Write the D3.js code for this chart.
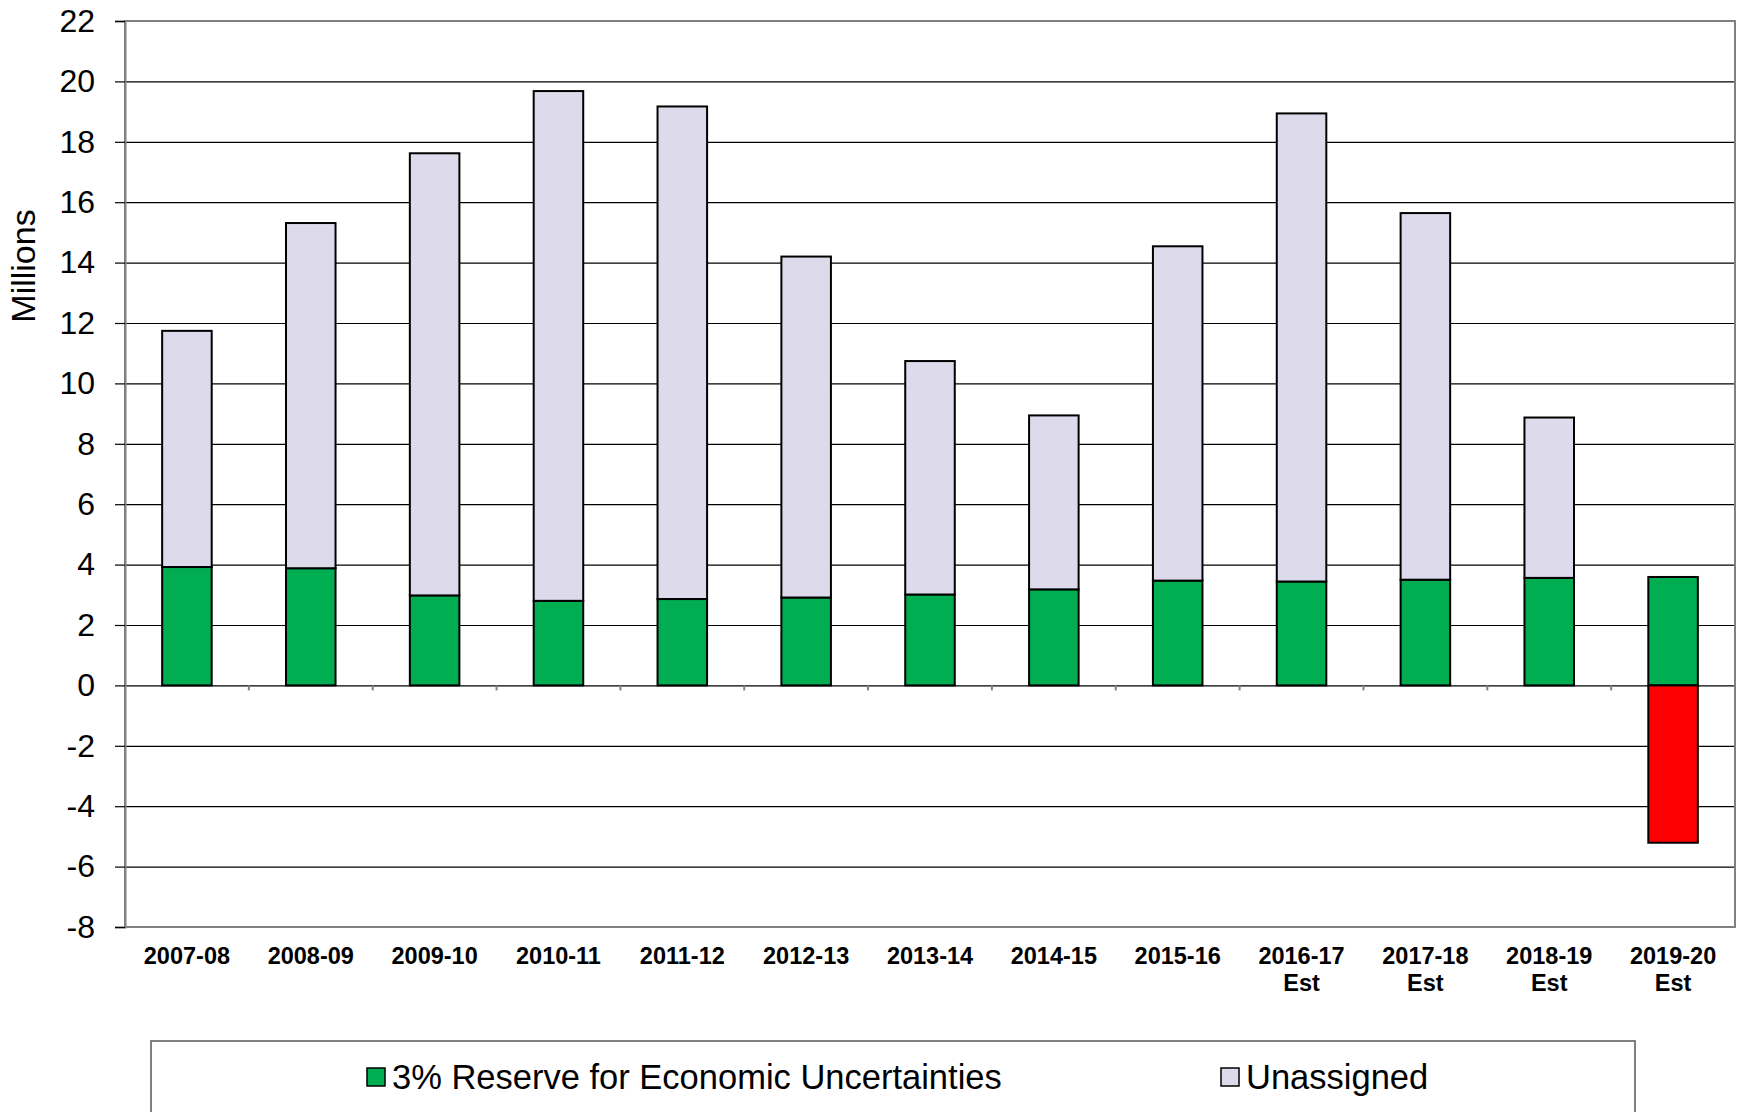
<!DOCTYPE html>
<html>
<head>
<meta charset="utf-8">
<script src="https://cdn.jsdelivr.net/npm/d3@7"></script>
<style>
  body { margin: 0; background: #fff; }
  text { font-family: Arial, "Liberation Sans", sans-serif; }
</style>
</head>
<body>
<script>
// data (millions)
var categories = ["2007-08", "2008-09", "2009-10", "2010-11", "2011-12", "2012-13", "2013-14",
                  "2014-15", "2015-16", "2016-17 Est", "2017-18 Est", "2018-19 Est", "2019-20 Est"];
var reserve    = [3.92, 3.88, 2.98, 2.80, 2.86, 2.91, 3.01, 3.18, 3.47, 3.44, 3.50, 3.56, 3.59];
var unassigned = [7.82, 11.43, 14.64, 16.88, 16.31, 11.29, 7.73, 5.76, 11.07, 15.50, 12.14, 5.31, -5.21];
var yTicks = [-8, -6, -4, -2, 0, 2, 4, 6, 8, 10, 12, 14, 16, 18, 20, 22];
var seriesNames = ["3% Reserve for Economic Uncertainties", "Unassigned"];

var W = 1746, H = 1112;
var margin = {top: 21, right: 11, bottom: 185, left: 125},
    width = W - margin.left - margin.right,
    height = H - margin.top - margin.bottom;

var green = "#00ad50", lavender = "#dddaeb", red = "#ff0000";

var svg = d3.select("body").append("svg")
    .attr("width", W)
    .attr("height", H);

var g = svg.append("g")
    .attr("transform", "translate(" + margin.left + "," + margin.top + ")");

// Scales
var x = d3.scaleBand().domain(categories).range([0, width])
    .paddingInner(0.6).paddingOuter(0.3);
var y = d3.scaleLinear().domain([-8, 22]).range([height, 0]);

// Gridlines
g.append("g")
    .attr("class", "grid")
    .call(d3.axisLeft(y).tickValues(yTicks).tickSize(-width).tickFormat(""))
    .call(function(s) {
        s.select(".domain").remove();
        s.selectAll("line").attr("stroke", "#000").attr("stroke-width", 1.2);
    });

// Plot border (gray)
g.append("rect")
    .attr("x", 0).attr("y", 0)
    .attr("width", width).attr("height", height)
    .attr("fill", "none")
    .attr("stroke", "#808080")
    .attr("stroke-width", 2);

// Y axis (plain hyphen for negatives, like the original)
g.append("g")
    .call(d3.axisLeft(y).tickValues(yTicks).tickSize(10).tickPadding(20)
        .tickFormat(function(d) { return String(d); }))
    .call(function(s) {
        s.select(".domain").attr("stroke", "#808080").attr("stroke-width", 2);
        s.selectAll("line").attr("stroke", "#000").attr("stroke-width", 1.2);
        s.selectAll("text").attr("font-size", "32px").attr("fill", "#000");
    });

// small ticks on the zero line between categories
var step = x.step();
g.append("g").selectAll("line")
    .data(categories.slice(0, categories.length - 1))
    .join("line")
    .attr("x1", function(d) { return x(d) + x.bandwidth() + (step - x.bandwidth()) / 2; })
    .attr("x2", function(d) { return x(d) + x.bandwidth() + (step - x.bandwidth()) / 2; })
    .attr("y1", y(0))
    .attr("y2", y(0) + 5)
    .attr("stroke", "#808080")
    .attr("stroke-width", 2);

// Bars: reserve (green) from 0 up, unassigned stacked on top (red if negative)
var bars = g.append("g");
bars.selectAll("rect.reserve")
    .data(categories)
    .join("rect")
    .attr("class", "reserve")
    .attr("x", function(d) { return x(d); })
    .attr("width", x.bandwidth())
    .attr("y", function(d, i) { return y(reserve[i]); })
    .attr("height", function(d, i) { return y(0) - y(reserve[i]); })
    .attr("fill", green)
    .attr("stroke", "#000")
    .attr("stroke-width", 2);

bars.selectAll("rect.unassigned")
    .data(categories)
    .join("rect")
    .attr("class", "unassigned")
    .attr("x", function(d) { return x(d); })
    .attr("width", x.bandwidth())
    .attr("y", function(d, i) {
        return unassigned[i] >= 0 ? y(reserve[i] + unassigned[i]) : y(0);
    })
    .attr("height", function(d, i) {
        return unassigned[i] >= 0 ? y(reserve[i]) - y(reserve[i] + unassigned[i])
                                  : y(unassigned[i]) - y(0);
    })
    .attr("fill", function(d, i) { return unassigned[i] >= 0 ? lavender : red; })
    .attr("stroke", "#000")
    .attr("stroke-width", 2);

// X axis labels
g.append("g")
    .attr("transform", "translate(0," + height + ")")
    .call(d3.axisBottom(x).tickSize(0).tickPadding(0))
    .call(function(s) {
        s.select(".domain").remove();
        s.selectAll("text").each(function(d) {
            var t = d3.select(this).text("")
                .attr("y", 37).attr("dy", null)
                .attr("font-size", "23.5px")
                .attr("font-weight", "bold")
                .attr("fill", "#000");
            d.split(" ").forEach(function(part, k) {
                t.append("tspan").attr("x", 0).attr("dy", k === 0 ? 0 : 27).text(part);
            });
        });
    });

// Y axis title
svg.append("text")
    .attr("transform", "translate(35,266) rotate(-90)")
    .attr("text-anchor", "middle")
    .attr("font-size", "34px")
    .text("Millions");

// Legend
svg.append("rect")
    .attr("x", 151).attr("y", 1041)
    .attr("width", 1484).attr("height", 120)
    .attr("fill", "#fff")
    .attr("stroke", "#808080")
    .attr("stroke-width", 2);

var legendX = [367, 1221];
var legendColors = [green, lavender];
var legend = svg.append("g").selectAll("g")
    .data(seriesNames)
    .join("g")
    .attr("transform", function(d, i) { return "translate(" + legendX[i] + ",1068)"; });

legend.append("rect")
    .attr("width", 18).attr("height", 18)
    .attr("fill", function(d, i) { return legendColors[i]; })
    .attr("stroke", "#000")
    .attr("stroke-width", 1.5);

legend.append("text")
    .attr("x", 25)
    .attr("y", 21)
    .attr("font-size", "34.5px")
    .text(function(d) { return d; });
</script>
</body>
</html>
